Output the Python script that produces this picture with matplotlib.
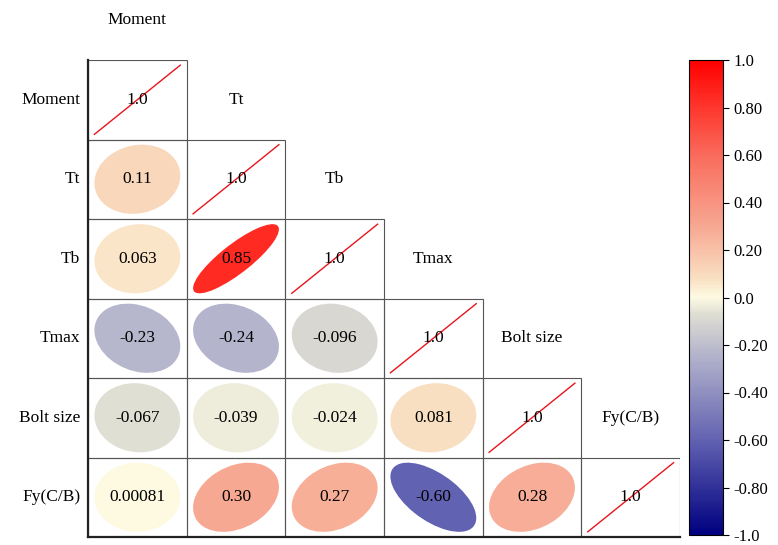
import matplotlib
matplotlib.use("Agg")
import matplotlib.pyplot as plt
import numpy as np
from matplotlib.patches import Ellipse, Rectangle
from matplotlib.colors import LinearSegmentedColormap, Normalize
from matplotlib.cm import ScalarMappable

plt.rcParams['font.family'] = ['Liberation Serif', 'DejaVu Serif']

names = ['Moment', 'Tt', 'Tb', 'Tmax', 'Bolt size', 'Fy(C/B)']

# lower triangle of the correlation matrix, row by row (diagonal = 1.0)
corr_rows = [
    [],
    [0.11],
    [0.063, 0.85],
    [-0.23, -0.24, -0.096],
    [-0.067, -0.039, -0.024, 0.081],
    [0.00081, 0.30, 0.27, -0.60, 0.28],
]

cb_ticks = [1.0, 0.8, 0.6, 0.4, 0.2, 0.0, -0.2, -0.4, -0.6, -0.8, -1.0]
cb_labels = ['1.0', '0.80', '0.60', '0.40', '0.20', '0.0',
             '-0.20', '-0.40', '-0.60', '-0.80', '-1.0']

# blue - cream - red map
anchors = [(-1.0, '#000080'), (-0.6, '#6262b2'), (-0.24, '#b4b4cc'),
           (-0.07, '#dfded3'), (0.0, '#fdfbe3'), (0.08, '#f9e0c2'),
           (0.3, '#f7a892'), (0.6, '#f96b5c'), (0.85, '#ff2a22'),
           (1.0, '#ff0000')]
cmap = LinearSegmentedColormap.from_list(
    'bcr', [((v + 1) / 2, c) for v, c in anchors])
norm = Normalize(-1, 1)

n = len(names)
fig = plt.figure(figsize=(7.78, 5.45), dpi=100)
ax = fig.add_axes([88/778, 8/545, 592/778, 477/545])
ax.set_xlim(0, n)
ax.set_ylim(n, 0)
ax.set_xticks([])
ax.set_yticks([])
for sp in ['top', 'right']:
    ax.spines[sp].set_visible(False)
for sp in ['left', 'bottom']:
    ax.spines[sp].set_linewidth(1.6)
    ax.spines[sp].set_color('#222222')

s = 0.435
fs = 12.5
for i in range(n):
    for j in range(i + 1):
        ax.add_patch(Rectangle((j, i), 1, 1, fill=False, ec='#555555',
                               lw=0.8, zorder=1))
        cx, cy = j + 0.5, i + 0.5
        if i == j:
            ax.plot([cx - s, cx + s], [cy + s, cy - s], color='#e8141e',
                    lw=1.0, zorder=2)
            ax.text(cx, cy, '1.0', ha='center', va='center', fontsize=fs,
                    zorder=3)
        else:
            r = corr_rows[i][j]
            ax.add_patch(Ellipse((cx, cy), 2*s*np.sqrt(1 + r),
                                 2*s*np.sqrt(1 - r), angle=-45,
                                 color=cmap(norm(r)), lw=0, zorder=2))
            ax.text(cx, cy, f'{r:#.2g}', ha='center', va='center',
                    fontsize=fs, zorder=3)

for k, name in enumerate(names):
    ax.text(-0.08, k + 0.5, name, ha='right', va='center', fontsize=fs,
            clip_on=False)
    ax.text(k + 0.5, k - 0.5, name, ha='center', va='center', fontsize=fs,
            clip_on=False)

cax = fig.add_axes([689/778, 10/545, 34/778, 475/545])
sm = ScalarMappable(norm=norm, cmap=cmap)
cb = fig.colorbar(sm, cax=cax)
cb.set_ticks(cb_ticks)
cb.set_ticklabels(cb_labels)
cb.ax.tick_params(labelsize=12, length=4, width=0.8)
cb.outline.set_linewidth(0.8)

fig.savefig('out.png', dpi=100)
